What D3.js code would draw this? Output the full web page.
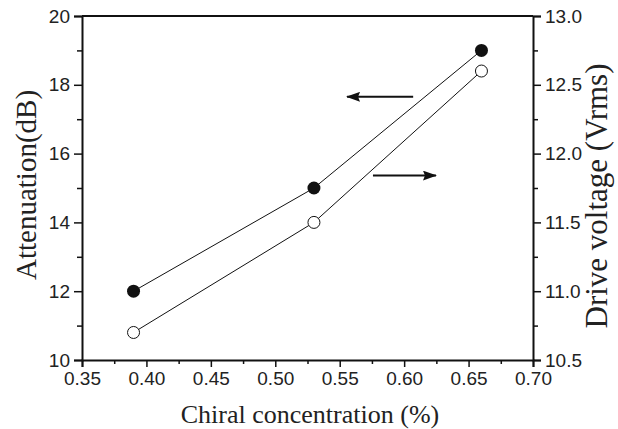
<!DOCTYPE html>
<html>
<head>
<meta charset="utf-8">
<script src="https://cdn.jsdelivr.net/npm/d3@7"></script>
<style>
  body { margin: 0; background: #fff; }
  .tick text { font-family: "Liberation Sans", Arial, sans-serif; }
  .title { font-family: "Liberation Serif", "Times New Roman", serif; fill: #222; }
</style>
</head>
<body>
<div id="chart"></div>
<script>
var concentration = [0.39, 0.53, 0.66];
var attenuation = [12, 15, 19];
var driveVoltage = [10.7, 11.5, 12.6];

var xTicks = [0.35, 0.40, 0.45, 0.50, 0.55, 0.60, 0.65, 0.70];
var leftTicks = [10, 12, 14, 16, 18, 20];
var rightTicks = [10.5, 11.0, 11.5, 12.0, 12.5, 13.0];

// arrows: [x start, x end, y value] (left arrow on left axis, right arrow on right axis)
var leftArrow = [0.607, 0.5557, 17.65];
var rightArrow = [0.5758, 0.6247, 11.84];

var W = 618, H = 429;
var margin = { top: 16, left: 82, right: 85, bottom: 69 };
var width = W - margin.left - margin.right;
var height = H - margin.top - margin.bottom;

var svg = d3.select('#chart').append('svg')
  .attr('width', W)
  .attr('height', H);

var defs = svg.append('defs');
defs.append('marker')
  .attr('id', 'head')
  .attr('viewBox', '0 0 14 10')
  .attr('refX', 13)
  .attr('refY', 5)
  .attr('markerWidth', 14)
  .attr('markerHeight', 10)
  .attr('markerUnits', 'userSpaceOnUse')
  .attr('orient', 'auto')
  .append('path')
  .attr('d', 'M0,0 L14,5 L0,10 L2,5 Z')
  .attr('fill', '#111');

var plot = svg.append('g')
  .attr('transform', 'translate(' + margin.left + ',' + margin.top + ')');

var x = d3.scaleLinear().domain([0.35, 0.70]).range([0, width]);
var yLeft = d3.scaleLinear().domain([10, 20]).range([height, 0]);
var yRight = d3.scaleLinear().domain([10.5, 13.0]).range([height, 0]);

function minorTicks(major) {
  var out = [];
  for (var i = 0; i < major.length - 1; i++) out.push((major[i] + major[i + 1]) / 2);
  return out;
}

// minor ticks
plot.append('g')
  .attr('class', 'minor')
  .attr('transform', 'translate(0,' + height + ')')
  .call(d3.axisBottom(x).tickValues(minorTicks(xTicks)).tickSize(4).tickFormat(''));
plot.append('g')
  .attr('class', 'minor')
  .call(d3.axisLeft(yLeft).tickValues(minorTicks(leftTicks)).tickSize(5).tickFormat(''));
plot.append('g')
  .attr('class', 'minor')
  .attr('transform', 'translate(' + width + ',0)')
  .call(d3.axisRight(yRight).tickValues(minorTicks(rightTicks)).tickSize(5).tickFormat(''));

// major axes
var xAxis = plot.append('g')
  .attr('class', 'x-axis')
  .attr('transform', 'translate(0,' + height + ')')
  .call(d3.axisBottom(x).tickValues(xTicks).tickSize(7).tickPadding(5).tickFormat(d3.format('.2f')));
var lAxis = plot.append('g')
  .attr('class', 'y-axis-left')
  .call(d3.axisLeft(yLeft).tickValues(leftTicks).tickSize(8).tickPadding(4).tickFormat(d3.format('d')));
var rAxis = plot.append('g')
  .attr('class', 'y-axis-right')
  .attr('transform', 'translate(' + width + ',0)')
  .call(d3.axisRight(yRight).tickValues(rightTicks).tickSize(8).tickPadding(4).tickFormat(d3.format('.1f')));

plot.append('line')
  .attr('x1', 0).attr('x2', width)
  .attr('y1', 0).attr('y2', 0)
  .attr('stroke', '#111')
  .attr('stroke-width', 2);

plot.selectAll('.domain')
  .attr('stroke', '#111')
  .attr('stroke-width', 2);
plot.selectAll('.tick line')
  .attr('stroke', '#111')
  .attr('stroke-width', 1.5);
plot.selectAll('.tick text')
  .attr('font-size', '19px')
  .attr('fill', '#222');
plot.selectAll('.minor .domain').remove();

// lines
var lineLeft = d3.line()
  .x(function(d, i) { return x(concentration[i]); })
  .y(function(d) { return yLeft(d); });
var lineRight = d3.line()
  .x(function(d, i) { return x(concentration[i]); })
  .y(function(d) { return yRight(d); });

plot.append('path')
  .attr('d', lineLeft(attenuation))
  .attr('fill', 'none')
  .attr('stroke', '#111')
  .attr('stroke-width', 1);
plot.append('path')
  .attr('d', lineRight(driveVoltage))
  .attr('fill', 'none')
  .attr('stroke', '#111')
  .attr('stroke-width', 1);

plot.selectAll('.dot-filled')
  .data(attenuation)
  .enter()
  .append('circle')
  .attr('class', 'dot-filled')
  .attr('cx', function(d, i) { return x(concentration[i]); })
  .attr('cy', function(d) { return yLeft(d); })
  .attr('r', 6.5)
  .attr('fill', '#111');

plot.selectAll('.dot-open')
  .data(driveVoltage)
  .enter()
  .append('circle')
  .attr('class', 'dot-open')
  .attr('cx', function(d, i) { return x(concentration[i]); })
  .attr('cy', function(d) { return yRight(d); })
  .attr('r', 6)
  .attr('fill', '#fff')
  .attr('stroke', '#111')
  .attr('stroke-width', 1);

// arrows
plot.append('line')
  .attr('x1', x(leftArrow[0])).attr('x2', x(leftArrow[1]))
  .attr('y1', yLeft(leftArrow[2])).attr('y2', yLeft(leftArrow[2]))
  .attr('stroke', '#111')
  .attr('stroke-width', 2)
  .attr('marker-end', 'url(#head)');
plot.append('line')
  .attr('x1', x(rightArrow[0])).attr('x2', x(rightArrow[1]))
  .attr('y1', yRight(rightArrow[2])).attr('y2', yRight(rightArrow[2]))
  .attr('stroke', '#111')
  .attr('stroke-width', 2)
  .attr('marker-end', 'url(#head)');

// titles
svg.append('text')
  .attr('class', 'title')
  .attr('x', 310)
  .attr('y', 423)
  .attr('text-anchor', 'middle')
  .attr('font-size', '26px')
  .text('Chiral concentration (%)');

svg.append('text')
  .attr('class', 'title')
  .attr('transform', 'translate(36,185) rotate(-90)')
  .attr('text-anchor', 'middle')
  .attr('font-size', '29px')
  .text('Attenuation(dB)');

svg.append('text')
  .attr('class', 'title')
  .attr('transform', 'translate(607,196) rotate(-90)')
  .attr('text-anchor', 'middle')
  .attr('font-size', '31px')
  .text('Drive voltage (Vrms)');
</script>
</body>
</html>
